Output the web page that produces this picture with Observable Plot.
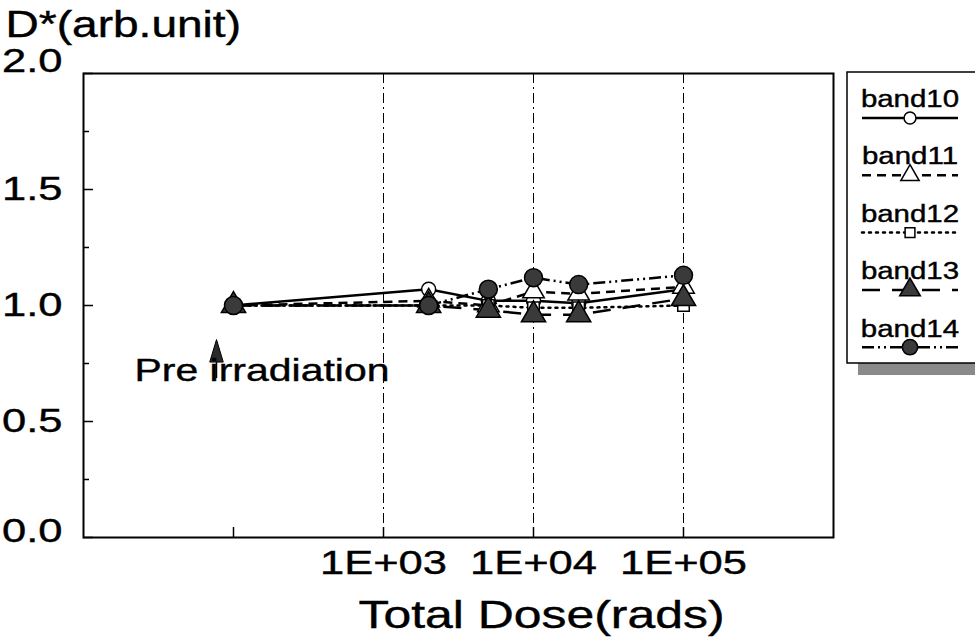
<!DOCTYPE html>
<html>
<head>
<meta charset="utf-8">
<script src="https://cdn.jsdelivr.net/npm/d3@7"></script>
<script src="https://cdn.jsdelivr.net/npm/@observablehq/plot@0.6"></script>
<style>
  html, body { margin: 0; padding: 0; background: white; }
  #chart { position: relative; width: 975px; height: 641px; }
  #chart svg text { stroke: black; stroke-width: 0.4px; }
</style>
</head>
<body>
<div id="chart"></div>
<script>
// ---- data ----
const dose = [100, 2000, 5000, 10000, 20000, 100000];
const bandNames = ["band10", "band11", "band12", "band13", "band14"];
const band10 = [1.00, 1.07, 1.02, 1.02, 1.01, 1.07];
const band11 = [1.00, 1.02, 1.00, 1.06, 1.05, 1.08];
const band12 = [1.00, 1.00, 1.00, 0.99, 0.99, 1.00];
const band13 = [1.00, 1.00, 0.98, 0.96, 0.96, 1.03];
const band14 = [1.00, 1.00, 1.07, 1.12, 1.09, 1.13];
const seriesValues = [band10, band11, band12, band13, band14];

const yMidTicks = [0.5, 1.0, 1.5];
const yTopTick = [2.0];
const yBottomTick = [0];
const yMajorTicks = [0, 0.5, 1.0, 1.5, 2.0];
const yMinorTicks = [0.25, 0.75, 1.25, 1.75];
const xTickMarks = [1e2, 1e3, 1e4, 1e5];
const xTickLabels = [1e3, 1e4, 1e5];
const gridDoses = [1e3, 1e4, 1e5];
const annotation = [{dose: 100, label: "Pre irradiation"}];

// ---- styles ----
const dashes = [null, "9,6", "2,5", "18,12", "12,4,2,4,2,4"];
const symbols = ["circle", "triangle", "square", "triangle", "circle"];
const fills = ["white", "white", "white", "#3a3a3a", "#3a3a3a"];
const radii = [7, 8, 6.5, 9, 9];
const FONT = "'Liberation Sans', Arial, Helvetica, sans-serif";
const STRETCH = 1.28;

// tall narrow arrow-head symbol for the annotation
const arrowHead = {
  draw(context, size) {
    const r = Math.sqrt(size / Math.PI);
    context.moveTo(0, -1.5 * r);
    context.lineTo(0.75 * r, r);
    context.lineTo(-0.75 * r, r);
    context.closePath();
  }
};

const rows = [];
bandNames.forEach((b, i) => dose.forEach((d, j) => rows.push({band: b, dose: d, value: seriesValues[i][j]})));

const yFmt = d => d.toFixed(1);
const marks = [
  Plot.gridX(gridDoses, {stroke: "black", strokeOpacity: 1, strokeWidth: 1, strokeDasharray: "10,4,2,4"}),
  Plot.frame({stroke: "black", strokeWidth: 2}),
  Plot.axisY(yMajorTicks, {tickSize: -10, fill: "none", strokeWidth: 1.5}),
  Plot.axisY(yMinorTicks, {tickSize: -6, fill: "none", strokeWidth: 1.5}),
  Plot.axisY(yMidTicks, {tickSize: 0, tickPadding: 21, tickFormat: yFmt, fontSize: 34, label: null}),
  Plot.axisY(yTopTick, {tickSize: 0, tickPadding: 21, tickFormat: yFmt, fontSize: 34, label: null, dy: -12}),
  Plot.axisY(yBottomTick, {tickSize: 0, tickPadding: 21, tickFormat: yFmt, fontSize: 34, label: null, dy: -6}),
  Plot.axisX(xTickMarks, {tickSize: -10, fill: "none", strokeWidth: 1.5}),
  Plot.axisX(xTickLabels, {tickSize: 0, tickPadding: 12, tickFormat: d => "1E+0" + Math.round(Math.log10(d)), fontSize: 34, label: null}),
];

bandNames.forEach((b, i) => {
  marks.push(Plot.line(rows.filter(r => r.band === b), {
    x: "dose", y: "value", stroke: "black", strokeWidth: 2.5,
    strokeDasharray: dashes[i], strokeLinecap: i === 2 ? "round" : "butt"
  }));
});
bandNames.forEach((b, i) => {
  marks.push(Plot.dot(rows.filter(r => r.band === b), {
    x: "dose", y: "value", symbol: symbols[i], r: radii[i],
    fill: fills[i], stroke: "black", strokeWidth: 1.5
  }));
});

// annotation
marks.push(
  Plot.ruleX(annotation, {x: "dose", y1: 0.685, y2: 0.76, dx: -17, stroke: "black", strokeWidth: 1.5}),
  Plot.dot(annotation, {x: "dose", y: 0.795, symbol: arrowHead, r: 9, dx: -17, fill: "#2a2a2a", stroke: "black", strokeWidth: 1}),
  Plot.text(annotation, {x: "dose", y: 0.72, text: "label", dx: -99, textAnchor: "start", fontSize: 32})
);

// titles
marks.push(
  Plot.text(["Total Dose(rads)"], {frameAnchor: "bottom", dx: 83, dy: 90, lineAnchor: "bottom", fontSize: 39}),
  Plot.text(["D*(arb.unit)"], {frameAnchor: "top-left", dx: -78, dy: -37, lineAnchor: "bottom", textAnchor: "start", fontSize: 36})
);

const plot = Plot.plot({
  width: 975,
  height: 641,
  marginLeft: 83,
  marginRight: 142,
  marginTop: 73,
  marginBottom: 104,
  style: {fontFamily: FONT, fontSize: "34px", background: "white", color: "black"},
  x: {type: "log", domain: [10, 1e6]},
  y: {domain: [0, 2]},
  marks
});

document.getElementById("chart").appendChild(plot);

// ---- legend ----
const svg = d3.select(plot);
const lg = svg.append("g").attr("class", "legend");
const LX = 847, LY = 72, LW = 140, LH = 291;
lg.append("rect").attr("x", LX + 11).attr("y", LY + LH).attr("width", LW).attr("height", 12).attr("fill", "#8a8a8a");
lg.append("rect").attr("x", LX).attr("y", LY).attr("width", LW).attr("height", LH)
  .attr("fill", "white").attr("stroke", "black").attr("stroke-width", 1.5);
const symType = {circle: d3.symbolCircle, triangle: d3.symbolTriangle, square: d3.symbolSquare};
bandNames.forEach((b, i) => {
  const ty = 107 + i * 57.5;
  const ly = 118 + i * 57.3;
  lg.append("text").attr("x", 910).attr("y", ty).attr("text-anchor", "middle")
    .attr("font-size", 23).attr("font-family", FONT).attr("fill", "black").text(b);
  lg.append("line").attr("x1", 862).attr("x2", 958).attr("y1", ly).attr("y2", ly)
    .attr("stroke", "black").attr("stroke-width", 2.5)
    .attr("stroke-dasharray", dashes[i]).attr("stroke-linecap", i === 2 ? "round" : "butt");
  const rr = radii[i] * 0.85;
  lg.append("path").attr("transform", `translate(910,${ly})`)
    .attr("d", d3.symbol(symType[symbols[i]], Math.PI * rr * rr)())
    .attr("fill", fills[i]).attr("stroke", "black").attr("stroke-width", 1.5);
});

// ---- horizontally stretch glyphs to match the scanned proportions ----
plot.querySelectorAll("text").forEach(t => {
  if (!t.textContent || !t.textContent.trim()) return;
  const bb = t.getBBox();
  if (!(bb.width > 0)) return;
  const anchor = getComputedStyle(t).textAnchor;
  const ax = anchor === "middle" ? bb.x + bb.width / 2 : anchor === "end" ? bb.x + bb.width : bb.x;
  const prev = t.getAttribute("transform") || "";
  t.setAttribute("transform", `${prev} translate(${ax},0) scale(${STRETCH},1) translate(${-ax},0)`.trim());
});
</script>
</body>
</html>
